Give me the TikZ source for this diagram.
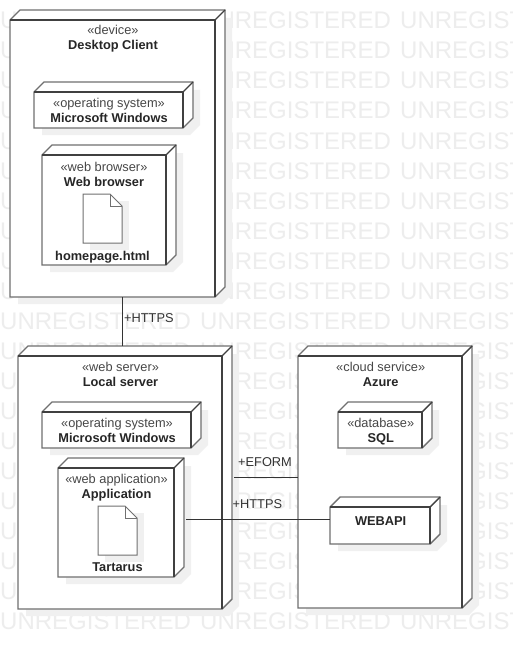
\documentclass[tikz,border=0pt]{standalone}
\usepackage{fontspec}
\setmainfont{Liberation Sans}
\definecolor{edgeg}{HTML}{707070}
\definecolor{darkedge}{HTML}{404040}
\definecolor{shadowg}{HTML}{F0F0F0}
\definecolor{wmark}{HTML}{EDEDED}
\newcommand{\nodebox}[6]{% name, x0, y0, x1, y1, depth
  \fill[shadowg] (#2+8,#3+8-#6) -- (#2+8+#6,#3+8-#6) -- (#4+#6+7,#3+8-#6) -- (#4+#6+7,#5+7-#6) -- (#4+7,#5+7) -- (#2+8,#5+7) -- cycle;
  \draw[boxline,fill=white] (#2,#3) -- (#2+#6,#3-#6) -- (#4+#6,#3-#6) -- (#4+#6,#5-#6) -- (#4,#5) -- (#2,#5) -- cycle;
  \draw[boxline,darkedge] (#2,#3) -- (#4,#3) -- (#4,#5);
  \draw[boxline,darkedge] (#4,#3) -- (#4+#6,#3-#6);
  \node[anchor=south west,inner sep=0pt,minimum width=#4-#2,minimum height=#5-#3] (#1) at (#2,#5) {};
}
\newcommand{\docicon}[5]{% name, x0,y0,x1,y1
  \fill[shadowg] (#2+7,#3+7) rectangle (#4+7,#5+7);
  \draw[docline,fill=white] (#2,#3) -- (#4-12,#3) -- (#4,#3+12) -- (#4,#5) -- (#2,#5) -- cycle;
  \draw[docline] (#4-12,#3) -- (#4-12,#3+12) -- (#4,#3+12);
  \node[inner sep=0pt,minimum width=#4-#2,minimum height=#5-#3] (#1) at ({(#2+#4)/2},{(#3+#5)/2}) {};
}
\tikzset{
  x=1pt,y=-1pt,
  boxline/.style={draw=edgeg,line width=1.4pt,line join=miter},
  docline/.style={draw=edgeg,line width=1pt},
  conn/.style={draw=black!80,line width=0.8pt},
  stereo/.style={font=\fontsize{12.8}{14}\selectfont,text=black!72,inner sep=0pt,anchor=base},
  title/.style={font=\fontsize{12.8}{14}\selectfont\bfseries,text=black!85,inner sep=0pt,anchor=base},
  clabel/.style={font=\fontsize{12.8}{14}\selectfont,text=black!80,inner sep=0pt,anchor=base west},
  wm/.style={font=\fontsize{24}{26}\selectfont,text=wmark,inner sep=0pt,anchor=base west},
}
\begin{document}
\begin{tikzpicture}
\useasboundingbox (0,0) rectangle (513,650);
\fill[white] (0,0) rectangle (513,650);
% watermark
\foreach \r in {0,...,20}{
  \foreach \c in {0,1}{
    \node[wm] (wm-\r-\c) at ({\c*200},{29+\r*30}) {UNREGISTERED};
  }
  \node[wm] (wm-\r-2) at (400,{29+\r*30}) {UNREGIST};
}
% boxes
\nodebox{desk}{10}{20}{215}{297}{10}
\nodebox{os1}{34}{92}{183}{128}{10}
\nodebox{wb}{42}{155}{166}{265}{10}
\docicon{doc1}{83}{194}{122}{243}
\nodebox{local}{18}{356}{222}{609}{10}
\nodebox{os2}{42}{412}{191}{448}{10}
\nodebox{app}{58}{468}{174}{577}{10}
\docicon{doc2}{98}{506}{137}{555}
\nodebox{azure}{298}{356}{462}{608}{10}
\nodebox{sql}{338}{412}{422}{448}{10}
\nodebox{api}{330}{507}{430}{544}{10}
% texts
\node[stereo] (t1) at (113,35) {«device»};
\node[title] (t2) at (113,50) {Desktop Client};
\node[stereo] (t3) at (109,107) {«operating system»};
\node[title] (t4) at (109,122.5) {Microsoft Windows};
\node[stereo] (t5) at (104,171) {«web browser»};
\node[title] (t6) at (104,186) {Web browser};
\node[title] (t7) at (102.5,260) {homepage.html};
\node[stereo] (t8) at (120.5,371) {«web server»};
\node[title] (t9) at (120.5,386) {Local server};
\node[stereo] (t10) at (117,427) {«operating system»};
\node[title] (t11) at (117,442.5) {Microsoft Windows};
\node[stereo] (t12) at (116.5,483) {«web application»};
\node[title] (t13) at (116.5,498) {Application};
\node[title] (t14) at (117.5,571.5) {Tartarus};
\node[stereo] (t15) at (380.7,371) {«cloud service»};
\node[title] (t16) at (380.7,386) {Azure};
\node[stereo] (t17) at (380.7,427) {«database»};
\node[title] (t18) at (380.7,442.5) {SQL};
\node[title] (t19) at (380.7,525) {WEBAPI};
% connectors
\coordinate (deskout) at (122,297);
\coordinate (localin) at (122,346);
\coordinate (eformstart) at (234,477);
\coordinate (appout) at (186,519);
\draw[conn] (deskout) -- (localin);
\draw[conn] (eformstart) -- (azure.west |- eformstart);
\draw[conn] (appout) -- (api.west |- appout);
\node[clabel] (l1) at (124,322.5) {+HTTPS};
\node[clabel] (l2) at (238,466) {+EFORM};
\node[clabel] (l3) at (232.5,508) {+HTTPS};
\end{tikzpicture}
\end{document}
